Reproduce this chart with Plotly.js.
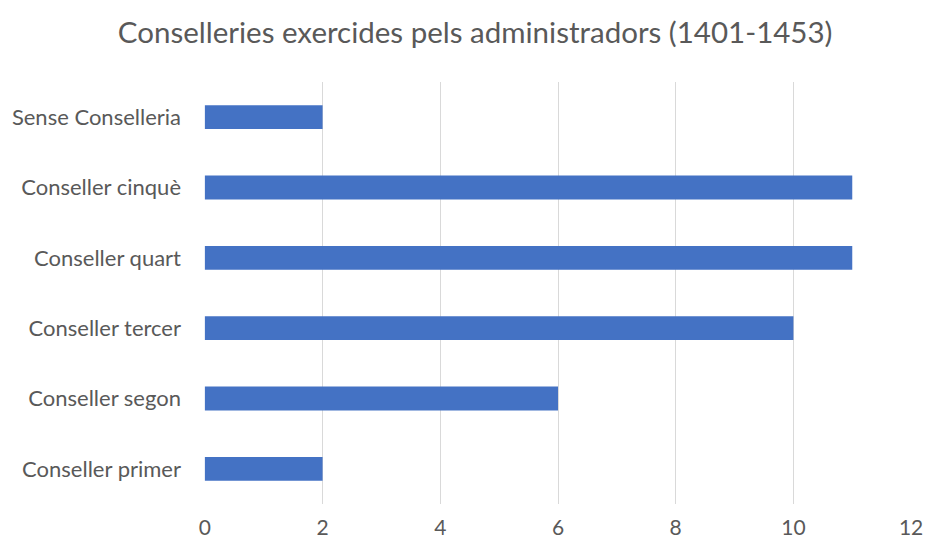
<!DOCTYPE html>
<html>
<head>
<meta charset="utf-8">
<script src="https://cdn.plot.ly/plotly-3.0.1.min.js"></script>
<style>html,body{margin:0;padding:0;background:#fff;}#chart{width:928px;height:544px;}</style>
</head>
<body>
<div id="chart"></div>
<script>
const categories = ["Conseller primer", "Conseller segon", "Conseller tercer", "Conseller quart", "Conseller cinquè", "Sense Conselleria"];
const values = [2, 6, 10, 11, 11, 2];
const xTicks = [0, 2, 4, 6, 8, 10, 12];

const trace = {
  type: 'bar',
  orientation: 'h',
  y: categories,
  x: values,
  width: 0.34,
  marker: {color: '#4472C4'},
  hoverinfo: 'x+y'
};

const FONT = 'Lato, Open Sans, Liberation Sans, sans-serif';

const layout = {
  width: 928,
  height: 544,
  margin: {l: 204, r: 16, t: 82, b: 40},
  paper_bgcolor: '#ffffff',
  plot_bgcolor: '#ffffff',
  font: {family: FONT, color: '#595959', size: 22},
  title: {
    text: 'Conselleries exercides pels administradors (1401-1453)',
    font: {family: FONT, size: 29.5, color: '#595959'},
    xref: 'container', x: 0.512, xanchor: 'center',
    yref: 'container', y: 0.94, yanchor: 'middle'
  },
  xaxis: {
    range: [-0.015, 12.015],
    tickvals: xTicks,
    ticktext: xTicks.map(String),
    showgrid: true,
    gridcolor: '#d9d9d9',
    gridwidth: 1,
    zeroline: false,
    showline: false,
    ticks: '',
    ticklabelstandoff: 9,
    automargin: false,
    tickfont: {size: 21, color: '#595959'},
    fixedrange: true
  },
  yaxis: {
    type: 'category',
    categoryorder: 'array',
    categoryarray: categories,
    range: [-0.5, 5.5],
    showgrid: false,
    zeroline: false,
    showline: false,
    ticks: '',
    ticklabelstandoff: 22,
    automargin: false,
    tickfont: {size: 22, color: '#595959'},
    fixedrange: true
  },
  showlegend: false
};

Plotly.newPlot('chart', [trace], layout, {displayModeBar: false, staticPlot: true});
</script>
</body>
</html>
